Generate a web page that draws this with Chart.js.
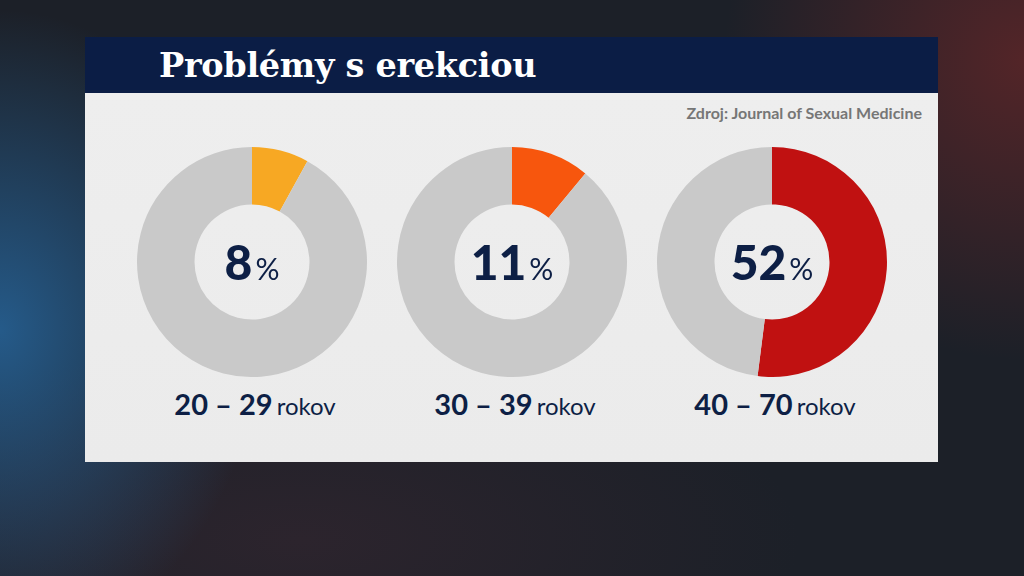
<!DOCTYPE html>
<html>
<head>
<meta charset="utf-8">
<script src="https://cdn.jsdelivr.net/npm/chart.js@4"></script>
<style>
  html, body { margin: 0; padding: 0; }
  body {
    width: 1024px; height: 576px; overflow: hidden; position: relative;
    background:
      radial-gradient(ellipse 260px 320px at 0px 330px, rgba(40,110,170,0.75), rgba(40,110,170,0) 100%),
      radial-gradient(ellipse 300px 300px at 1024px 60px, rgba(120,40,40,0.6), rgba(120,40,40,0) 100%),
      radial-gradient(ellipse 500px 200px at 300px 540px, rgba(60,40,50,0.5), rgba(60,40,50,0) 100%),
      #1c2028;
  }
  #titlebar {
    position: absolute; left: 85px; top: 37px; width: 853px; height: 56px;
    background: #0b1d45;
  }
  #titlebar h1 {
    margin: 0; position: absolute; left: 74px; top: 9px;
    font-family: "DejaVu Serif", serif; font-weight: bold; font-size: 33.5px;
    color: #ffffff; letter-spacing: -0.3px;
  }
  #panel {
    position: absolute; left: 85px; top: 93px; width: 853px; height: 369px;
    background: linear-gradient(#eeeeee, #ebebeb);
  }
  #source {
    position: absolute; right: 16px; top: 10px;
    font-family: "Lato", sans-serif; font-weight: bold; font-size: 16px; color: #767676;
  }
  .chartbox { position: absolute; width: 230px; height: 230px; }
  .chartbox canvas { position: absolute; left: 0; top: 0; }
  .center {
    position: absolute; width: 230px; top: 86px; text-align: center;
    font-family: "Lato", sans-serif; color: #0d1f45; white-space: nowrap;
  }
  .center b { font-size: 48px; font-weight: 900; }
  .center span { font-size: 30px; font-weight: normal; margin-left: 3px; }
  .label {
    position: absolute; width: 260px; text-align: center;
    font-family: "Lato", sans-serif; color: #0d1f45; white-space: nowrap;
  }
  .label b { font-size: 29px; font-weight: bold; }
  .label span { font-size: 24px; font-weight: normal; }
</style>
</head>
<body>
<div id="titlebar"><h1>Problémy s erekciou</h1></div>
<div id="panel"><div id="source">Zdroj: Journal of Sexual Medicine</div></div>

<script>
const ageGroups = ['20 – 29', '30 – 39', '40 – 70'];
const shares = [8, 11, 52];
const sliceColors = ['#f7a823', '#f7560d', '#c01111'];
const restColor = '#c9c9c9';
const centersX = [252, 512, 772];
const centerY = 262;

ageGroups.forEach((group, i) => {
  const box = document.createElement('div');
  box.className = 'chartbox';
  box.style.left = (centersX[i] - 115) + 'px';
  box.style.top = (centerY - 115) + 'px';
  const canvas = document.createElement('canvas');
  canvas.width = 230; canvas.height = 230;
  box.appendChild(canvas);
  const mid = document.createElement('div');
  mid.className = 'center';
  mid.innerHTML = '<b>' + shares[i] + '</b><span>%</span>';
  box.appendChild(mid);
  document.body.appendChild(box);

  const label = document.createElement('div');
  label.className = 'label';
  label.style.left = (centersX[i] - 127) + 'px';
  label.style.top = '386px';
  label.innerHTML = '<b>' + group + '</b> <span>rokov</span>';
  document.body.appendChild(label);

  new Chart(canvas.getContext('2d'), {
    type: 'doughnut',
    data: {
      labels: [group, 'ostatní'],
      datasets: [{
        data: [shares[i], 100 - shares[i]],
        backgroundColor: [sliceColors[i], restColor],
        borderWidth: 0
      }]
    },
    options: {
      responsive: false,
      animation: false,
      cutout: '50%',
      plugins: { legend: { display: false }, tooltip: { enabled: false } }
    }
  });
});
</script>
</body>
</html>
